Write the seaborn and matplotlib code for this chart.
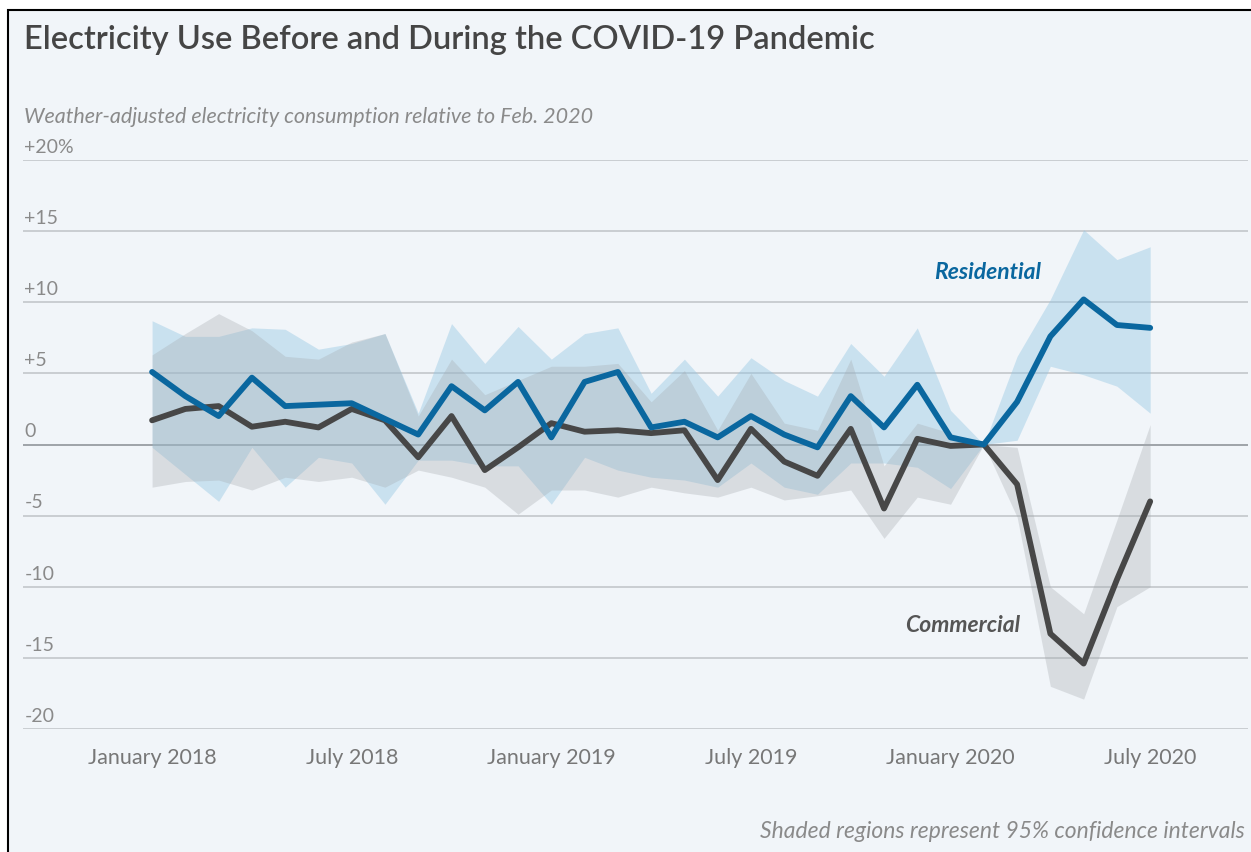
import numpy as np
import pandas as pd
import matplotlib.pyplot as plt
from matplotlib.patches import Rectangle
import seaborn as sns

# monthly values, January 2018 .. July 2020 (31 months), % vs Feb. 2020
residential = [5.1, 3.4, 2.0, 4.7, 2.7, 2.8, 2.9, 1.8, 0.7, 4.1, 2.4, 4.4, 0.5, 4.4, 5.1, 1.2,
               1.6, 0.5, 2.0, 0.7, -0.2, 3.4, 1.2, 4.2, 0.5, 0.0, 3.0, 7.6, 10.2, 8.4, 8.2]
residential_hi = [8.7, 7.6, 7.6, 8.2, 8.1, 6.7, 7.1, 7.8, 2.2, 8.5, 5.7, 8.3, 6.0, 7.8, 8.2, 3.6,
                  6.0, 3.4, 6.1, 4.5, 3.4, 7.1, 4.8, 8.2, 2.4, 0.0, 6.2, 10.2, 15.1, 13.0, 13.9]
residential_lo = [-0.2, -2.1, -4.0, -0.2, -3.0, -0.9, -1.3, -4.2, -1.1, -1.1, -1.5, -1.5, -4.2, -0.9, -1.8, -2.3,
                  -2.5, -3.0, -1.3, -3.0, -3.5, -1.3, -1.3, -1.6, -3.1, 0.0, 0.3, 5.5, 4.9, 4.1, 2.2]

commercial = [1.7, 2.5, 2.7, 1.25, 1.6, 1.2, 2.5, 1.7, -0.9, 2.0, -1.8, -0.2, 1.5, 0.9, 1.0, 0.8,
              1.0, -2.5, 1.1, -1.2, -2.2, 1.1, -4.5, 0.4, -0.1, 0.0, -2.8, -13.3, -15.4, -9.5, -4.0]
commercial_hi = [6.3, 7.8, 9.2, 8.0, 6.2, 6.0, 7.2, 7.8, 2.0, 6.0, 3.5, 4.5, 5.5, 5.5, 5.7, 3.0,
                 5.2, 1.0, 5.0, 1.5, 1.0, 6.0, -1.5, 1.5, 0.8, 0.0, -0.2, -10.0, -11.9, -5.3, 1.4]
commercial_lo = [-3.0, -2.6, -2.5, -3.2, -2.3, -2.6, -2.3, -3.0, -1.8, -2.3, -3.0, -4.9, -3.2, -3.2, -3.7, -3.0,
                 -3.4, -3.7, -3.0, -3.9, -3.6, -3.2, -6.6, -3.7, -4.2, 0.0, -5.1, -17.0, -17.9, -11.4, -10.0]

tick_months = [0, 6, 12, 18, 24, 30]
tick_labels = ["January 2018", "July 2018", "January 2019", "July 2019", "January 2020", "July 2020"]
y_ticks = [20, 15, 10, 5, 0, -5, -10, -15, -20]
y_labels = ["+20%", "+15", "+10", "+5", "0", "-5", "-10", "-15", "-20"]

month = np.arange(len(residential))
df = pd.DataFrame({
    "month": np.concatenate([month, month]),
    "value": residential + commercial,
    "sector": ["Residential"] * len(month) + ["Commercial"] * len(month),
})

BG = "#f1f5f9"
BLUE = "#0a679f"
GREY = "#474747"
TXT = "#8a8a8a"

sns.set_style("white")
plt.rcParams["font.family"] = ["Lato", "DejaVu Sans"]

fig = plt.figure(figsize=(12.51, 8.52), dpi=100, facecolor="white")
# framed light panel (only top/left edges visible in the crop)
fig.add_artist(Rectangle((8 / 1251, -0.1), 1.2, 1 - 10 / 852 + 0.1, transform=fig.transFigure,
                         facecolor=BG, edgecolor="black", linewidth=1.5, zorder=-10))

ax = fig.add_axes([23 / 1251, 1 - 729 / 852, 1225 / 1251, (729 - 160) / 852])
ax.set_facecolor("none")

# confidence bands
ax.fill_between(month, residential_lo, residential_hi, color="#93c6e3", alpha=0.42, linewidth=0, zorder=1)
ax.fill_between(month, commercial_lo, commercial_hi, color="#a4a9ae", alpha=0.32, linewidth=0, zorder=1)

sns.lineplot(data=df, x="month", y="value", hue="sector",
             palette={"Residential": BLUE, "Commercial": GREY},
             hue_order=["Commercial", "Residential"],
             linewidth=4.2, legend=False, ax=ax, zorder=3)

ax.set_xlim(-3.88, 32.94)
ax.set_ylim(-20, 20)

for v in y_ticks:
    col = "#9ea3a8" if v == 0 else "#c9cdd1"
    ax.axhline(v, color=col, linewidth=1.4, zorder=0.5)
for v, lbl in zip(y_ticks, y_labels):
    ax.annotate(lbl, xy=(0, v), xycoords=("axes fraction", "data"), xytext=(1, 3),
                textcoords="offset points", va="bottom", ha="left", fontsize=14, color=TXT)

ax.set_yticks([])
ax.set_xticks(tick_months)
ax.set_xticklabels(tick_labels, fontsize=15.5, color="#777777")
ax.tick_params(axis="x", length=8, width=1.2, color="#a0a0a0", pad=6)
ax.set_xlabel("")
ax.set_ylabel("")
for s in ax.spines.values():
    s.set_visible(False)

ax.text(25.1, 12.1, "Residential", color=BLUE, fontsize=16.5, fontweight="bold",
        fontstyle="italic", ha="center", va="center")
ax.text(24.35, -12.75, "Commercial", color="#555555", fontsize=16.5, fontweight="bold",
        fontstyle="italic", ha="center", va="center")

fig.text(24 / 1251, 1 - 40 / 852, "Electricity Use Before and During the COVID-19 Pandemic",
         fontsize=23.5, color="#454545", fontweight="semibold", va="center", ha="left")
fig.text(24 / 1251, 1 - 117 / 852, "Weather-adjusted electricity consumption relative to Feb. 2020",
         fontsize=15.5, color=TXT, fontstyle="italic", va="center", ha="left")
fig.text(1245 / 1251, 1 - 832 / 852, "Shaded regions represent 95% confidence intervals",
         fontsize=16.5, color=TXT, fontstyle="italic", va="center", ha="right")

fig.savefig("out.png", dpi=100, facecolor="white")
